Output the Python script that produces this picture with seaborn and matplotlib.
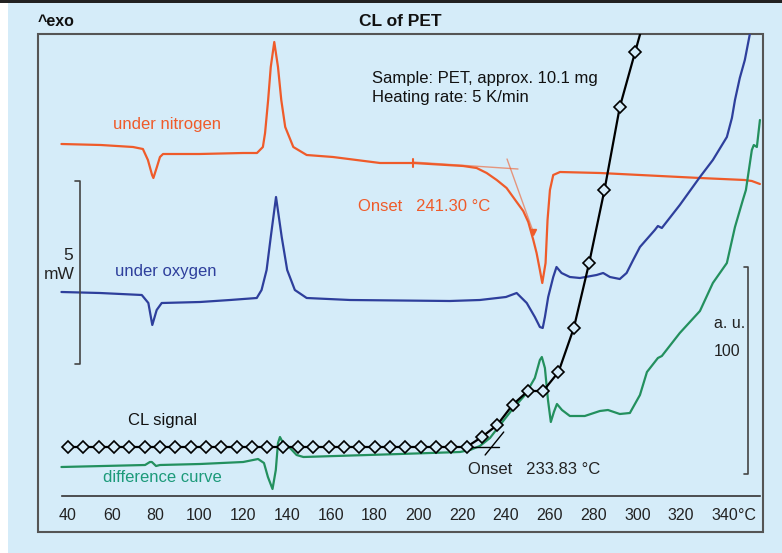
import numpy as np
import matplotlib
matplotlib.use('Agg')
import matplotlib.pyplot as plt
import seaborn as sns
from matplotlib.patches import Rectangle

# temperature in degC, signals in arbitrary units (height above the frame bottom)
n2_temp = [37, 55, 69.7, 74.2, 76.5, 78.4, 79, 80.6, 82, 83.4, 100, 120, 126.3, 129, 130, 131.4,
           132.6, 134.2, 135.9, 137.4, 139.2, 142.9, 149, 161, 182.5, 197.7, 220.5, 226.6, 231.2,
           235.8, 240.3, 244.9, 247.9, 250.2, 252.5, 254, 255.5, 256.6, 258.1, 259, 260.1, 261.6,
           264.7, 283, 328.6, 349, 352.3, 356]
n2_sig = [388, 387, 385, 383, 372, 357, 354, 365, 375, 378, 378, 379, 379, 385, 399, 432,
          465, 490, 465, 432, 405, 385, 377, 375, 369, 369, 366, 364, 359,
          352, 344, 330, 321, 310, 292, 279, 262, 249, 269, 312, 342, 357,
          360, 359, 354, 352, 351, 348]

o2_temp = [37, 54.6, 73.7, 76.7, 78.5, 80.5, 82.8, 100.3, 114, 126.2, 128.4, 130.7, 132.6, 135,
           137.6, 140.1, 143.6, 149, 168.8, 214.4, 228.1, 240, 244.9, 249.5, 253.2, 255.5, 256.8,
           257.8, 259.3, 261.6, 263.1, 265.4, 269.2, 273.8, 281.4, 284.4, 287.5, 292, 295.1,
           298.1, 301.2, 308, 309.4, 311.2, 319.4, 328.6, 334.5, 340.9, 343.2, 344.6, 346.8,
           349.1, 351.4, 352.3]
o2_sig = [240, 239, 237, 229, 207, 222, 229, 230, 232, 234, 242, 262, 295, 335,
          295, 262, 242, 234, 232, 231, 232, 235, 239, 229, 215, 205, 204,
          215, 235, 255, 265, 259, 255, 254, 257, 259, 255, 253, 259,
          272, 285, 302, 306, 304, 327, 355, 372, 395, 414, 432, 454,
          472, 498, 512]

diff_temp = [37, 75.2, 77.4, 78.3, 80.2, 82, 100.3, 120, 126.8, 129.5, 131.3, 133.4, 134.9,
             135.9, 136.8, 138, 141.4, 144.4, 147.5, 191.6, 219, 223.6, 228.1, 232.7, 237.3,
             242.7, 248.7, 253.2, 255.5, 256.4, 257.8, 259.2, 260.5, 261.9, 263.3, 265.6, 269.2,
             276, 282.9, 286.6, 292, 296.6, 301.2, 304.4, 309.4, 311.2, 319.4, 328.6, 334.5, 340.9,
             344.6, 348.2, 349.6, 352.3, 353.2, 354.6, 356]
diff_sig = [65, 67, 70, 70, 66, 67, 68, 70, 73, 69, 55, 43, 62,
            89, 95, 90, 84, 77, 75, 78, 80, 82, 86, 94, 107,
            122, 137, 154, 172, 175, 164, 132, 110, 120, 128, 122, 116,
            116, 121, 122, 118, 119, 137, 160, 174, 176, 199, 221, 249, 269,
            305, 332, 342, 382, 387, 385, 412]

cl_temp = [40, 47, 54, 61, 68, 75, 82, 89, 96, 103, 110, 117, 124, 131, 138, 145, 152, 159, 166,
           173, 180, 187, 194, 201, 208, 215, 222, 229, 236, 243, 250, 257, 264, 271, 278, 285,
           292, 299, 306]
cl_sig = [85, 85, 85, 85, 85, 85, 85, 85, 85, 85, 85, 85, 85, 85, 85, 85, 85, 85, 85,
          85, 85, 85, 85, 85, 85, 85, 85, 95, 107, 127, 141, 141, 160, 204, 269, 342,
          425, 480, 535]

# onset construction lines
n2_base_temp = [197.5, 245.5]
n2_base_sig = [370, 363]
n2_tang_temp = [240.5, 252.5]
n2_tang_sig = [373, 300]
cl_base_temp = [224, 237]
cl_base_sig = [85, 85]
cl_tang_temp = [230.5, 239]
cl_tang_sig = [77, 100]

x_ticks = list(range(40, 360, 10))
x_labels = ['40', '', '60', '', '80', '', '100', '', '120', '', '140', '', '160', '', '180', '',
            '200', '', '220', '', '240', '', '260', '', '280', '', '300', '', '320', '', '340', '°C']

bg = '#d5ecf9'
c_n2 = '#ef5b2a'
c_o2 = '#2e3f9c'
c_diff = '#23905e'
c_diff_txt = '#1c9a7a'
frame_c = '#555555'

sns.set_style('white')
plt.rcParams['font.family'] = ['Liberation Sans', 'DejaVu Sans']

fig = plt.figure(figsize=(7.82, 5.53), dpi=100, facecolor=bg)
ax = fig.add_axes([38 / 782, 21 / 553, 725 / 782, 498 / 553])
ax.set_facecolor(bg)

sns.lineplot(x=n2_temp, y=n2_sig, color=c_n2, lw=1.6, ax=ax)
sns.lineplot(x=o2_temp, y=o2_sig, color=c_o2, lw=1.6, ax=ax)
sns.lineplot(x=diff_temp, y=diff_sig, color=c_diff, lw=1.6, ax=ax)
sns.lineplot(x=n2_base_temp, y=n2_base_sig, color=c_n2, lw=1, alpha=0.6, ax=ax)
sns.lineplot(x=n2_tang_temp, y=n2_tang_sig, color=c_n2, lw=1, alpha=0.6, ax=ax)
sns.lineplot(x=cl_base_temp, y=cl_base_sig, color='black', lw=1, ax=ax)
sns.lineplot(x=cl_tang_temp, y=cl_tang_sig, color='black', lw=1, ax=ax)
sns.lineplot(x=cl_temp, y=cl_sig, color='black', lw=1.6, marker='D', markersize=6,
             markerfacecolor=bg, markeredgecolor='black', markeredgewidth=1.2, ax=ax)

# integration marks on the nitrogen curve
ax.plot([197.5, 197.5], [365, 373], color=c_n2, lw=1.5)
ax.plot([252.3], [300], marker='v', color=c_n2, ms=4)

ax.set_xlim(26.3, 357.4)
ax.set_ylim(0, 498)
ax.set_xlabel('')
ax.set_ylabel('')
ax.set_yticks([])
ax.set_xticks(x_ticks)
ax.set_xticklabels(x_labels)
ax.tick_params(axis='x', direction='out', length=4, width=1, color='#333333',
               labelsize=11.5, labelcolor='#222222', pad=5)
for s in ['left', 'right', 'top']:
    ax.spines[s].set_visible(False)
ax.spines['bottom'].set_position(('data', 36))
ax.spines['bottom'].set_bounds(37.3, 356)
ax.spines['bottom'].set_color('#333333')
ax.spines['bottom'].set_linewidth(1.2)
ax.add_patch(Rectangle((0, 0), 1, 1, transform=ax.transAxes, fill=False,
                       ec=frame_c, lw=1.5, clip_on=False))

# scale brackets
ax.plot([43.2, 45.5, 45.5, 43.2], [351, 351, 168, 168], color='#444444', lw=1.2)
ax.plot([348.7, 350.5, 350.5, 348.7], [265, 265, 58, 58], color='#444444', lw=1.2)

# annotations
ax.text(40, 277, '5', fontsize=12.5, ha='center', va='center', color='#222222')
ax.text(35.8, 258, 'mW', fontsize=12.5, ha='center', va='center', color='#222222')
ax.text(334.8, 209, 'a. u.', fontsize=11.5, ha='left', va='center', color='#222222')
ax.text(334.8, 180, '100', fontsize=11.5, ha='left', va='center', color='#222222')
ax.text(60.5, 408, 'under nitrogen', fontsize=12, color=c_n2, va='center')
ax.text(61.5, 261, 'under oxygen', fontsize=12, color=c_o2, va='center')
ax.text(67.4, 112, 'CL signal', fontsize=12, color='#111111', va='center')
ax.text(56, 54, 'difference curve', fontsize=12, color=c_diff_txt, va='center')
ax.text(178.8, 454, 'Sample: PET, approx. 10.1 mg', fontsize=12, color='#111111', va='center')
ax.text(178.8, 435, 'Heating rate: 5 K/min', fontsize=12, color='#111111', va='center')
ax.text(172.4, 326, 'Onset   241.30 °C', fontsize=12, color=c_n2, va='center')
ax.text(222.6, 62, 'Onset   233.83 °C', fontsize=12, color='#222222', va='center')

fig.text(400 / 782, 1 - 22 / 553, 'CL of PET', fontsize=12.5, fontweight='bold',
         ha='center', va='center', color='#111111')
fig.text(38 / 782, 1 - 22 / 553, '^exo', fontsize=11.5, fontweight='bold',
         ha='left', va='center', color='#111111')

# page edges
fig.patches.append(Rectangle((0, 0), 8 / 782, 1, transform=fig.transFigure, fc='white', ec='none'))
fig.patches.append(Rectangle((0, 1 - 3 / 553), 1, 3 / 553, transform=fig.transFigure,
                             fc='#222222', ec='none'))

fig.savefig('out.png', dpi=100, facecolor=bg)
